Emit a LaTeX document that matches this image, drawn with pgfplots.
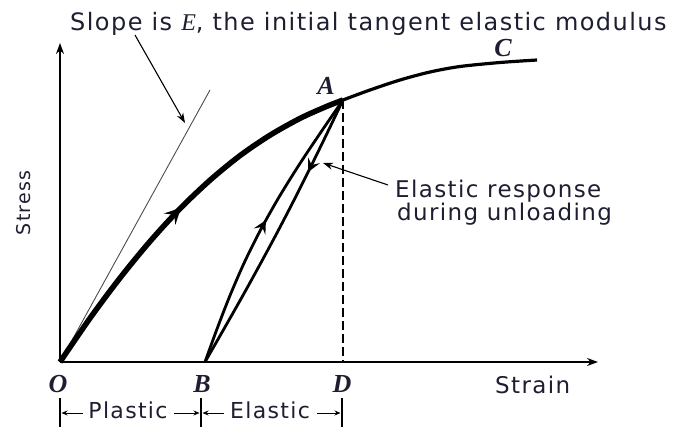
\documentclass[border=0pt]{standalone}
\usepackage{pgfplots}
\pgfplotsset{compat=1.18}
\usepackage{fontspec}
\setmainfont{DejaVu Sans}[LetterSpace=6]
\newfontfamily\ptfont{Liberation Serif}
\usetikzlibrary{arrows.meta,decorations.markings}
\definecolor{ink}{RGB}{30,30,50}
\newcommand{\pt}[1]{{\ptfont\bfseries\itshape #1}}
\newcommand{\fs}[1]{\fontsize{#1bp}{#1bp}\selectfont}

\tikzset{
  midarrow/.style 2 args={postaction={decorate},
    decoration={markings, mark=at position #1 with {\arrow{Stealth[length=#2bp,width=#2bp,inset=0.4*#2bp]}}}},
}

\begin{document}
\begin{tikzpicture}
\useasboundingbox (-60bp,-66bp) rectangle (620bp,362bp);
\begin{axis}[
  at={(0,0)}, anchor=south west,
  x=1bp, y=1bp,
  xmin=0, xmax=538, ymin=0, ymax=319,
  axis lines=left,
  axis line style={line width=1.6bp, -{Stealth[length=11bp,width=8bp]}},
  xtick=\empty, ytick=\empty,
  clip=false,
]
% tangent at the origin
\addplot[line width=0.9bp, black!70] coordinates {(0,0) (150,272)};

% whole stress-strain curve O -> A -> C
\addplot[line width=3.2bp, smooth] coordinates {
  (0,0) (30,43.8) (60,84.0) (90,120.6) (120,153.3) (150,181.8) (180,206.4)
  (210,226.8) (240,243.6) (265,254.9) (283,262) (310,272) (340,282)
  (370,290) (400,295.5) (440,299.5) (477,302)};
% loading branch O -> A
\addplot[line width=5.5bp, smooth, midarrow={0.5}{16}] coordinates {
  (0,0) (30,43.8) (60,84.0) (90,120.6) (120,153.3) (150,181.8) (180,206.4)
  (210,226.8) (240,243.6) (265,254.9) (283,262)};

% reloading B -> A
\addplot[line width=2.8bp, smooth, midarrow={0.52}{13}] coordinates {
  (145,0) (157,33) (169.8,66) (184.1,99) (200,131) (218.5,164) (239,197) (261,230) (283,262)};
% unloading A -> B
\addplot[line width=2.8bp, smooth, midarrow={0.27}{13}] coordinates {
  (283,262) (267.7,230) (251.6,197) (235.1,164) (218,131) (200.8,99) (182.6,66) (163.9,33) (145,0)};

% A down to D
\addplot[line width=1.8bp, dash pattern=on 9bp off 4bp] coordinates {(283,262) (283,0)};

% annotations
\draw[line width=1.1bp, -{Stealth[length=10bp,width=7bp]}] (axis cs:75,327) -- (axis cs:125,239);
\draw[line width=1.1bp, -{Stealth[length=10bp,width=7bp]}] (axis cs:328,177) -- (axis cs:263,199);

\node[anchor=base west, inner sep=0, text=ink, font=\fs{24}] at (axis cs:10,332)
  {Slope is {\ptfont\itshape E}, the initial tangent elastic modulus};
\node[anchor=base west, inner sep=0, text=ink, font=\fs{23}] at (axis cs:335,165) {Elastic response};
\node[anchor=base west, inner sep=0, text=ink, font=\fs{23}] at (axis cs:337,142) {during unloading};

\node[rotate=90, inner sep=0, text=ink, font=\fs{19}] at (axis cs:-36,159) {Stress};
\node[anchor=base west, inner sep=0, text=ink, font=\fs{23}] at (axis cs:435,-31) {Strain};

\node[inner sep=0, text=ink, font=\fs{26}] at (axis cs:-2,-22) {\pt{O}};
\node[inner sep=0, text=ink, font=\fs{26}] at (axis cs:142,-22) {\pt{B}};
\node[inner sep=0, text=ink, font=\fs{26}] at (axis cs:282,-22) {\pt{D}};
\node[inner sep=0, text=ink, font=\fs{26}] at (axis cs:266,276) {\pt{A}};
\node[inner sep=0, text=ink, font=\fs{26}] at (axis cs:443,314) {\pt{C}};

% plastic / elastic strain ranges
\draw[line width=1.1bp] (axis cs:0,-36) -- (axis cs:0,-65);
\draw[line width=1.1bp] (axis cs:141,-36) -- (axis cs:141,-65);
\draw[line width=1.1bp] (axis cs:282,-36) -- (axis cs:282,-65);
\draw[line width=0.9bp, -{Stealth[length=6bp,width=5bp]}] (axis cs:23,-51) -- (axis cs:1.5,-51);
\draw[line width=0.9bp, -{Stealth[length=6bp,width=5bp]}] (axis cs:114,-51) -- (axis cs:139.5,-51);
\draw[line width=0.9bp, -{Stealth[length=6bp,width=5bp]}] (axis cs:164,-51) -- (axis cs:142.5,-51);
\draw[line width=0.9bp, -{Stealth[length=6bp,width=5bp]}] (axis cs:257,-51) -- (axis cs:280.5,-51);
\node[anchor=base, inner sep=0, text=ink, font=\fs{22}] at (axis cs:68,-56) {Plastic};
\node[anchor=base, inner sep=0, text=ink, font=\fs{22}] at (axis cs:210,-56) {Elastic};
\end{axis}
\end{tikzpicture}
\end{document}
